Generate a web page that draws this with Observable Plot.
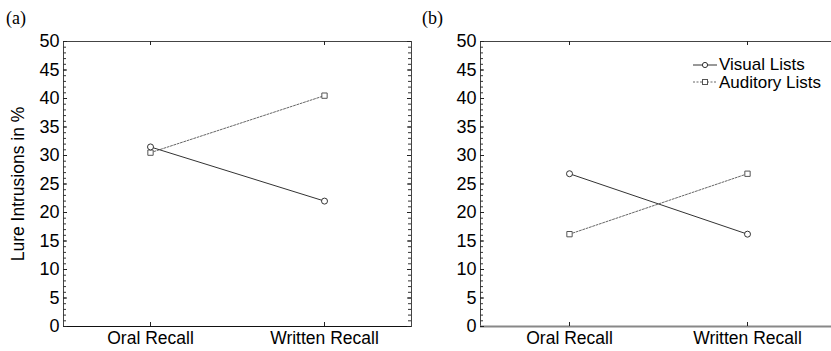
<!DOCTYPE html>
<html>
<head>
<meta charset="utf-8">
<script src="https://cdn.jsdelivr.net/npm/d3@7"></script>
<script src="https://cdn.jsdelivr.net/npm/@observablehq/plot@0.6"></script>
<style>
  html, body { margin: 0; padding: 0; background: #fff; overflow: hidden; }
  #wrap { position: relative; width: 831px; height: 351px; overflow: hidden; }
  .panel { position: absolute; top: 0; }
  .tag { position: absolute; font-family: "Liberation Serif", "Times New Roman", serif; font-size: 18px; color: #000; }
  .legend { position: absolute; font-family: "Liberation Sans", Arial, sans-serif; font-size: 17px; color: #000; line-height: 17.5px; }
  .legend div { display: flex; align-items: center; white-space: nowrap; height: 17.5px; }
  .legend svg { margin-right: 1px; }
</style>
</head>
<body>
<div id="wrap"></div>
<script>
// ---- data ----
const categories = ["Oral Recall", "Written Recall"];
const visualA = [31.5, 22.0];
const auditoryA = [30.5, 40.5];
const visualB = [26.8, 16.2];
const auditoryB = [16.2, 26.8];
const yTicks = [0, 5, 10, 15, 20, 25, 30, 35, 40, 45, 50];
const yMinor = d3.range(0, 51, 1);
const seriesNames = ["Visual Lists", "Auditory Lists"];
const panelTags = ["(a)", "(b)"];
const yLabel = "Lure Intrusions in %";

const wrap = document.getElementById("wrap");
const H = 351, MT = 41, MB = 25;

function rows(vals) { return categories.map((c, i) => ({cat: c, value: vals[i]})); }

function panel({left, width, ml, mr, visual, auditory, showLabel, bottomColor, bottomWidth}) {
  const fw = width - ml - mr, fh = H - MT - MB;
  const marks = [
    Plot.frame({stroke: "#444"}),
    Plot.ruleY([0], {stroke: bottomColor, strokeWidth: bottomWidth}),
    Plot.tickY(yMinor, {y: d => d, insetRight: fw - 3, stroke: "#333"}),
    Plot.tickY(yMinor, {y: d => d, insetLeft: fw - 3, stroke: "#333"}),
    Plot.tickY(yTicks, {y: d => d, insetRight: fw - 4, stroke: "#222"}),
    Plot.tickY(yTicks, {y: d => d, insetLeft: fw - 4, stroke: "#222"}),
    Plot.tickX(categories, {x: d => d, insetBottom: fh - 4, stroke: "#222"}),
    Plot.tickX(categories, {x: d => d, insetTop: fh - 4, stroke: "#222"}),
    Plot.axisY(yTicks, {tickSize: 0, tickPadding: 4, fontSize: 18, label: null}),
    Plot.axisX({tickSize: 0, tickPadding: 5, fontSize: 17.5, label: null}),
    Plot.line(rows(auditory), {x: "cat", y: "value", stroke: "#666", strokeWidth: 1, strokeDasharray: "2,1.5"}),
    Plot.line(rows(visual), {x: "cat", y: "value", stroke: "#333", strokeWidth: 1}),
    Plot.dot(rows(auditory), {x: "cat", y: "value", symbol: "square", r: 3, stroke: "#555", fill: "white", strokeWidth: 1}),
    Plot.dot(rows(visual), {x: "cat", y: "value", symbol: "circle", r: 3, stroke: "#333", fill: "white", strokeWidth: 1})
  ];
  if (showLabel) marks.push(Plot.text([yLabel], {text: d => d, frameAnchor: "left", textAnchor: "middle", dx: -45, rotate: -90, fontSize: 17.5, fill: "#000"}));
  const p = Plot.plot({
    width, height: H, marginTop: MT, marginBottom: MB, marginLeft: ml, marginRight: mr,
    x: {type: "point", domain: categories, padding: 0.5, axis: null},
    y: {domain: [0, 50], axis: null},
    style: {fontFamily: "'Liberation Sans', Arial, sans-serif", fontSize: "16px", color: "#000", background: "white", overflow: "visible"},
    marks
  });
  p.classList.add("panel");
  p.style.left = left + "px";
  wrap.appendChild(p);
}

panel({left: 0, width: 415, ml: 63, mr: 4, visual: visualA, auditory: auditoryA, showLabel: true, bottomColor: "#111", bottomWidth: 1});
panel({left: 415, width: 425, ml: 65, mr: 4, visual: visualB, auditory: auditoryB, showLabel: false, bottomColor: "#888", bottomWidth: 2});

// panel tags
[[6, 8], [422, 8]].forEach(([x, y], i) => {
  const d = document.createElement("div");
  d.className = "tag";
  d.textContent = panelTags[i];
  d.style.left = x + "px"; d.style.top = y + "px";
  wrap.appendChild(d);
});

// legend
const leg = document.createElement("div");
leg.className = "legend";
leg.style.left = "692px"; leg.style.top = "56px";
const swatch = [
  `<svg width="26" height="10"><line x1="1" y1="5" x2="25" y2="5" stroke="#333"/><circle cx="13" cy="5" r="2.6" fill="white" stroke="#333"/></svg>`,
  `<svg width="26" height="10"><line x1="1" y1="5" x2="25" y2="5" stroke="#666" stroke-dasharray="2,1.5"/><rect x="10.5" y="2.5" width="5" height="5" fill="white" stroke="#555"/></svg>`
];
leg.innerHTML = seriesNames.map((n, i) => `<div>${swatch[i]}<span>${n}</span></div>`).join("");
wrap.appendChild(leg);
</script>
</body>
</html>
